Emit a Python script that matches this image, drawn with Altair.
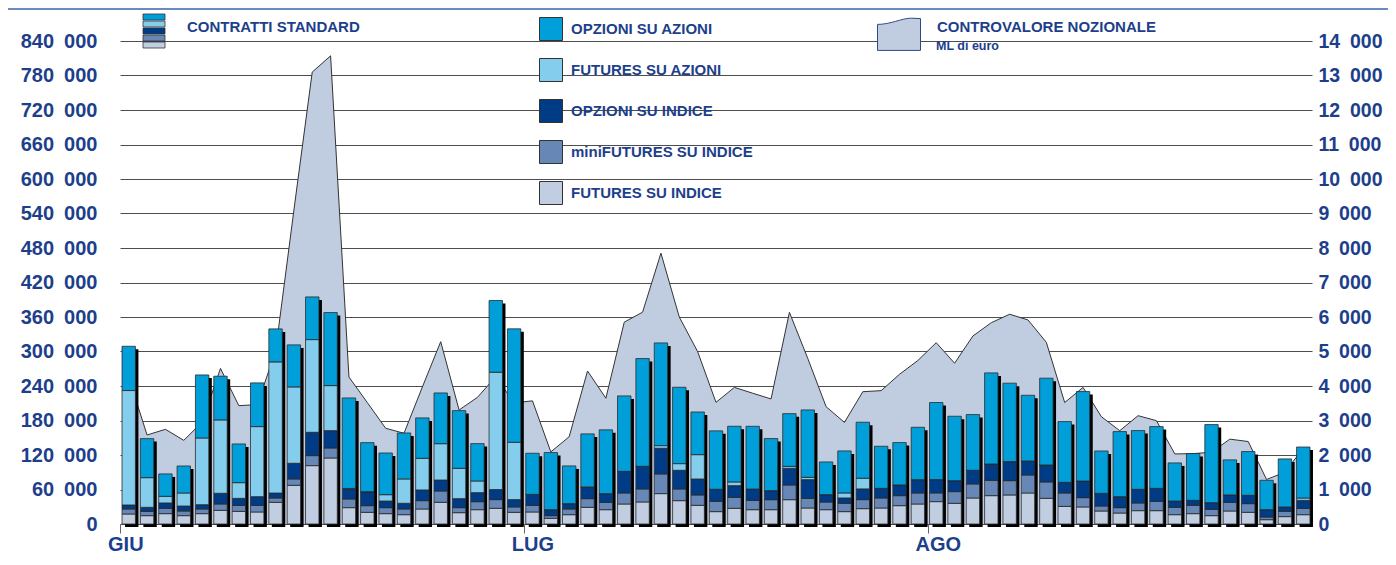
import altair as alt
import pandas as pd

# ---------------- data ----------------
days = list(range(1, 66))
month_ticks = [1, 23, 45]
month_labels = ['GIU', 'LUG', 'AGO']

categories = ['FUTURES SU INDICE', 'miniFUTURES SU INDICE', 'OPZIONI SU INDICE',
              'FUTURES SU AZIONI', 'OPZIONI SU AZIONI']

futures_indice = [17400, 14500, 18000, 14500, 18000, 23800, 22000, 20900, 37700, 67300,
                  101500, 114800, 28400, 20300, 18000, 16200, 26100, 37700, 19700, 24900,
                  27300, 20300, 20900, 9900, 16200, 29000, 24900, 34800, 38300, 52800,
                  40600, 32500, 21500, 27300, 24900, 24900, 42300, 27800, 24900, 21500,
                  26700, 27800, 31900, 34800, 38900, 36000, 45200, 49300, 50500, 53900,
                  44700, 30700, 29600, 22600, 19100, 23200, 23200, 16200, 18000, 14500,
                  22600, 20300, 7500, 12800, 16200]
mini_futures = [8700, 7500, 9300, 8100, 8100, 11000, 10400, 11600, 7500, 11000,
                17400, 17400, 15100, 11600, 10400, 9900, 14500, 19700, 8700, 13900,
                15100, 9300, 11600, 4600, 9900, 15100, 12800, 19100, 22600, 34200,
                20300, 18000, 18000, 19100, 16200, 17400, 25500, 16800, 13300, 14500,
                15700, 17400, 17400, 19100, 15100, 20300, 24400, 26700, 24900, 31300,
                28400, 23200, 16200, 8700, 9300, 13300, 16200, 12800, 14500, 11000,
                15100, 15100, 4600, 9300, 11000]
opzioni_indice = [7000, 7000, 9300, 8700, 7500, 18600, 12200, 15100, 8700, 27300,
                  40600, 30200, 17400, 23800, 11600, 9900, 18600, 19100, 15700, 15700,
                  17400, 12800, 19100, 10400, 9300, 20300, 15100, 37700, 39400, 44700,
                  32500, 27800, 20900, 20300, 19700, 15700, 29000, 32500, 12800, 9300,
                  18600, 16800, 18600, 23200, 23200, 19100, 23800, 28400, 33100, 24400,
                  29600, 18600, 29000, 22000, 19100, 23800, 22600, 11000, 8700, 11600,
                  12800, 14500, 12800, 7500, 13900]
futures_azioni = [199000, 51600, 11600, 22600, 116000, 127600, 27300, 121800, 228000, 132800,
                  161200, 78300, 1000, 500, 11000, 42300, 55100, 63200, 52800, 20300,
                  204200, 99800, 0, 0, 0, 0, 0, 0, 0, 4600,
                  11600, 42300, 0, 6400, 0, 0, 3500, 4100, 0, 8700,
                  18600, 0, 0, 0, 0, 0, 0, 0, 0, 0,
                  0, 0, 0, 0, 0, 0, 0, 0, 0, 0,
                  0, 0, 0, 0, 4100]
opzioni_azioni = [77000, 67900, 38900, 47000, 109600, 76000, 67300, 76000, 57400, 73100,
                  74200, 127000, 157300, 85300, 72500, 80000, 70200, 88200, 100300, 65000,
                  124700, 197200, 71400, 99300, 65600, 92300, 110900, 131200, 187400, 178600,
                  132800, 74200, 101600, 96900, 109100, 90600, 91600, 117200, 56900, 73100,
                  97400, 73200, 73700, 91100, 134100, 112000, 96900, 158400, 136400, 114300,
                  150900, 105600, 155500, 73700, 113200, 102200, 107400, 66200, 81300, 135800,
                  61000, 76100, 51100, 83600, 88700]
controvalore = [4250, 2580, 2745, 2425, 2950, 4510, 3430, 3460, 5000, 9100,
                13100, 13570, 4260, 3520, 2775, 2630, 3970, 5285, 3305, 3670,
                4270, 3510, 3570, 2090, 2530, 4435, 3645, 5850, 6140, 7850,
                6000, 4995, 3525, 3960, 3790, 3625, 6135, 4800, 3400, 2945,
                3835, 3865, 4340, 4740, 5255, 4660, 5450, 5835, 6080, 5915,
                5265, 3520, 3960, 3110, 2705, 3140, 2995, 2030, 2040, 2080,
                2460, 2390, 1290, 1500, 2200]
area_name = 'CONTROVALORE NOZIONALE'

# ---------------- styles ----------------
colors = ['#C1CDE1', '#6787B7', '#003C85', '#84CDEC', '#009FDA']
navy = '#1d3f8b'
font = 'Liberation Sans'

series = [futures_indice, mini_futures, opzioni_indice, futures_azioni, opzioni_azioni]
rows = []
for k, (cat, vals) in enumerate(zip(categories, series)):
    for d, v in zip(days, vals):
        rows.append({'day': d, 'tipo': cat, 'ordine': k, 'contratti': v})
bars_df = pd.DataFrame(rows)
tot_df = pd.DataFrame({'day': days, 'totale': [sum(t) for t in zip(*series)]})
area_df = pd.DataFrame({'day': days, 'controvalore': controvalore, 'serie': area_name})
month_df = pd.DataFrame({'day': month_ticks, 'mese': month_labels})

x_scale = alt.Scale(paddingInner=0.27, paddingOuter=0.11)

x_axis = alt.Axis(values=month_ticks, labels=False, title=None, grid=False,
                  domain=False, ticks=True, tickSize=9, tickColor='#666666', tickWidth=1,
                  bandPosition=0, tickOffset=-2)

left_domain = [0, 840000]
right_domain = [0, 14000]
num_expr = "datum.value == 0 ? '0' : format(floor(datum.value / 1000), 'd') + '\u2002000'"

y_left_axis = alt.Axis(values=list(range(0, 840001, 60000)), grid=True, gridColor='#4d4d4d',
                       gridWidth=1, domain=False, ticks=False, tickSize=0, labelPadding=23,
                       labelFont=font, labelFontSize=20, labelFontWeight='bold', labelColor=navy,
                       labelExpr=num_expr, title=None)
y_right_axis = alt.Axis(orient='right', values=list(range(0, 14001, 1000)), grid=False,
                        domain=False, ticks=False, tickSize=0, labelPadding=6, labelFont=font,
                        labelFontSize=19.5, labelFontWeight='bold', labelColor=navy,
                        labelExpr=num_expr, title=None)

area_path = "M-1,-0.47 C-0.4,-0.47 0.1,-0.74 0.53,-0.76 L1,-0.74 L1,0.74 L-1,0.74 Z"

x_band_mid = alt.X('day:O', scale=x_scale, bandPosition=0.5, axis=x_axis)
x_band = alt.X('day:O', scale=x_scale, axis=x_axis)
x_band_start = alt.X('day:O', scale=x_scale, bandPosition=0, axis=x_axis)
y_right = alt.Y('controvalore:Q', scale=alt.Scale(domain=right_domain, nice=False), axis=y_right_axis)

area = alt.Chart(area_df).mark_area(opacity=1, interpolate='linear').encode(
    x=x_band_mid,
    y=y_right,
    fill=alt.Fill('serie:N', scale=alt.Scale(domain=[area_name], range=['#C0CCE0']),
                  legend=alt.Legend(orient='none', legendX=757, legendY=-28.5, title=None,
                                    symbolType=area_path, symbolSize=1849,
                                    symbolStrokeColor='#2d4b8c', symbolStrokeWidth=1,
                                    symbolOpacity=1, labelFont=font, labelFontSize=15,
                                    labelFontWeight='bold', labelColor=navy, labelOffset=16,
                                    labelBaseline='bottom', labelLimit=400, padding=0)),
)
line = alt.Chart(area_df).mark_line(color='#333333', strokeWidth=1, interpolate='linear').encode(
    x=x_band_mid,
    y=y_right,
)

y_left_tot = alt.Y('totale:Q', scale=alt.Scale(domain=left_domain, nice=False), axis=y_left_axis)
shadow = alt.Chart(tot_df).mark_bar(color='black', xOffset=3, yOffset=3).encode(
    x=x_band,
    y=y_left_tot,
)
bars = alt.Chart(bars_df).mark_bar(stroke='#2b2b2b', strokeWidth=0.8, opacity=1).encode(
    x=x_band,
    y=alt.Y('contratti:Q', stack=True, scale=alt.Scale(domain=left_domain, nice=False),
            axis=y_left_axis),
    color=alt.Color('tipo:N',
                    scale=alt.Scale(domain=categories[::-1], range=colors[::-1]),
                    legend=alt.Legend(orient='none', legendX=419, legendY=-24, title=None,
                                      direction='vertical', symbolType='square',
                                      symbolSize=529, symbolStrokeColor='#333333',
                                      symbolStrokeWidth=1, symbolOpacity=1, labelFont=font,
                                      labelFontSize=15, labelFontWeight='bold',
                                      labelColor=navy, labelOffset=8, rowPadding=13,
                                      labelLimit=400, padding=0)),
    order=alt.Order('ordine:Q', sort='ascending'),
)

# month labels placed through the shared x scale
months = alt.Chart(month_df).mark_text(align='left', baseline='alphabetic', dx=-14,
                                       font=font, fontSize=20, fontWeight='bold',
                                       color=navy).encode(
    x=x_band_start,
    y=alt.value(510),
    text='mese:N',
)

# ---------------- decorations (legend icon, texts, frame) ----------------
one = pd.DataFrame({'k': [0]})
deco = []
strips = [(-27, -21), (-20, -14), (-13, -7), (-6, 0), (1, 7)]
for (ya, yb), col in zip(strips, colors[::-1]):
    deco.append(alt.Chart(one).mark_rect(color=col, stroke='#333333', strokeWidth=0.8).encode(
        x=alt.value(23), x2=alt.value(45), y=alt.value(ya), y2=alt.value(yb)))
deco.append(alt.Chart(one).mark_text(text='CONTRATTI STANDARD', align='left', baseline='middle',
                                     font=font, fontSize=15, fontWeight='bold', color=navy).encode(
    x=alt.value(67), y=alt.value(-14)))
deco.append(alt.Chart(one).mark_text(text='ML di euro', align='left', baseline='middle',
                                     font=font, fontSize=12.5, fontWeight='bold', color=navy).encode(
    x=alt.value(816), y=alt.value(5)))
deco.append(alt.Chart(one).mark_rule(color='#6B8BC0', strokeWidth=2).encode(
    x=alt.value(-112), x2=alt.value(1268), y=alt.value(-32)))

right_part = alt.layer(area, line)
left_part = alt.layer(shadow, bars, months)

chart = alt.layer(right_part, left_part, *deco).resolve_scale(
    y='independent'
).properties(
    width=1192, height=483,
    padding={'left': 112, 'top': 33, 'right': 76, 'bottom': 33},
    autosize='none', background='white'
).configure_view(stroke=None)

chart.save('out.html', embed_options={'renderer': 'svg', 'actions': False})
